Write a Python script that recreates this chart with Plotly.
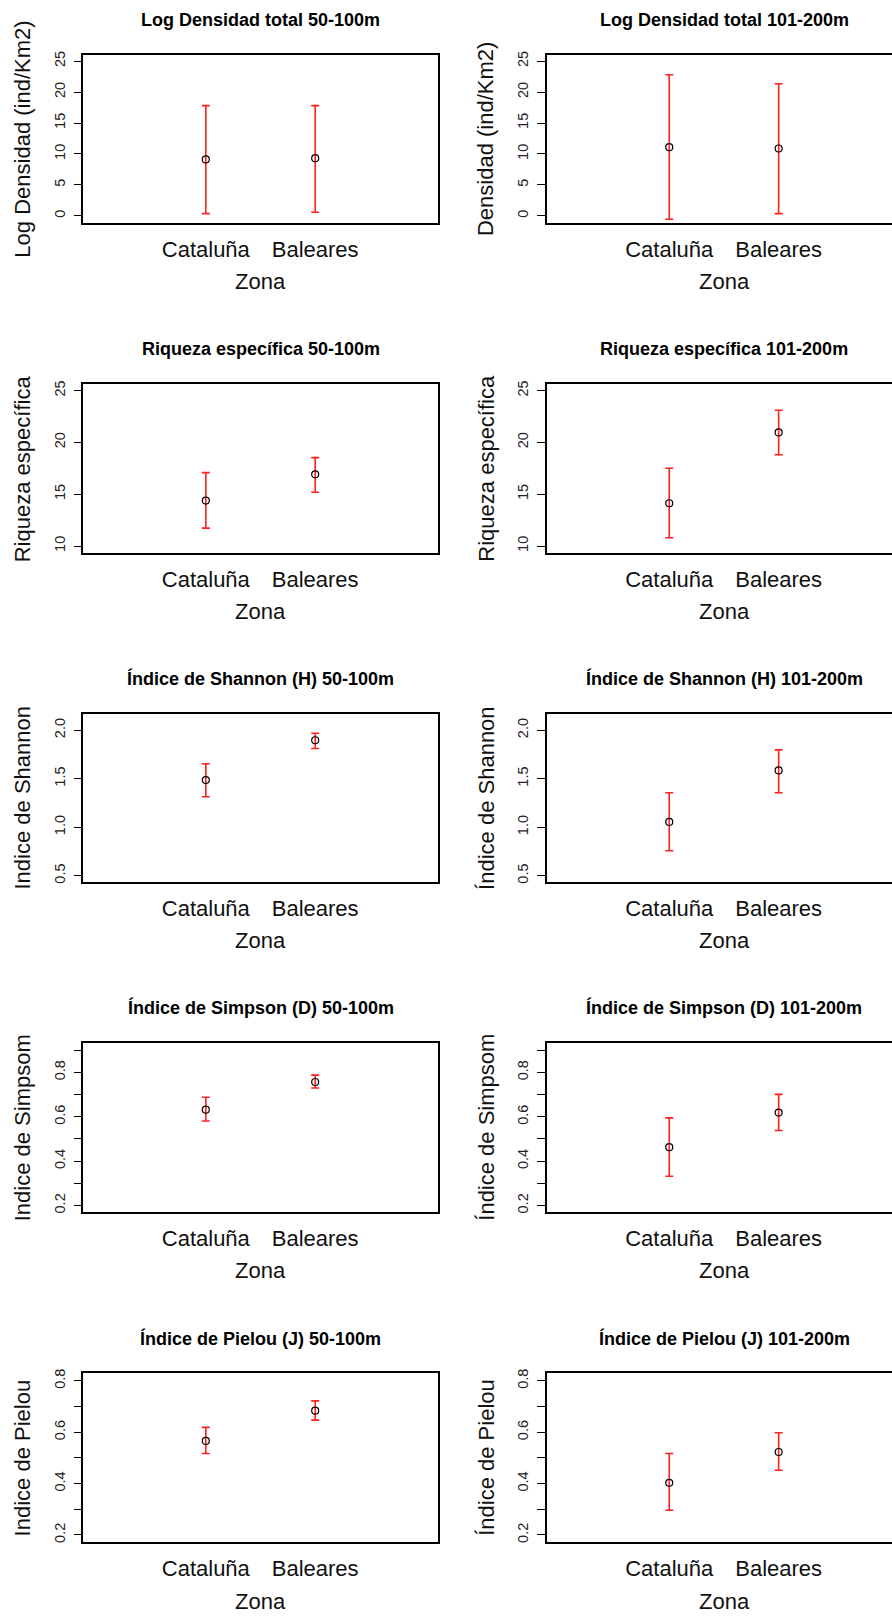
import plotly.graph_objects as go

categories = ["Cataluña", "Baleares"]

titles = [
    "Log Densidad total 50-100m", "Log Densidad total 101-200m",
    "Riqueza específica 50-100m", "Riqueza específica 101-200m",
    "Índice de Shannon (H) 50-100m", "Índice de Shannon (H) 101-200m",
    "Índice de Simpson (D) 50-100m", "Índice de Simpson (D) 101-200m",
    "Índice de Pielou (J) 50-100m", "Índice de Pielou (J) 101-200m",
]
ytitles = [
    "Log Densidad (ind/Km2)", "Densidad (ind/Km2)",
    "Riqueza específica", "Riqueza específica",
    "Indice de Shannon", "Índice de Shannon",
    "Indice de Simpsom", "Índice de Simpsom",
    "Indice de Pielou", "Índice de Pielou",
]

# mean, upper, lower for [Cataluña, Baleares]
dens_50_mean = [9.12, 9.33]
dens_50_up = [17.81, 17.81]
dens_50_lo = [0.38, 0.59]
dens_101_mean = [11.10, 10.89]
dens_101_up = [22.80, 21.35]
dens_101_lo = [-0.54, 0.38]

riq_50_mean = [14.39, 16.92]
riq_50_up = [17.08, 18.53]
riq_50_lo = [11.73, 15.19]
riq_101_mean = [14.13, 20.96]
riq_101_up = [17.50, 23.11]
riq_101_lo = [10.80, 18.81]

sha_50_mean = [1.486, 1.897]
sha_50_up = [1.654, 1.969]
sha_50_lo = [1.315, 1.812]
sha_101_mean = [1.055, 1.586]
sha_101_up = [1.356, 1.798]
sha_101_lo = [0.757, 1.356]

sim_50_mean = [0.632, 0.757]
sim_50_up = [0.688, 0.788]
sim_50_lo = [0.581, 0.730]
sim_101_mean = [0.463, 0.619]
sim_101_up = [0.595, 0.701]
sim_101_lo = [0.332, 0.538]

pie_50_mean = [0.566, 0.684]
pie_50_up = [0.619, 0.722]
pie_50_lo = [0.517, 0.647]
pie_101_mean = [0.403, 0.523]
pie_101_up = [0.517, 0.598]
pie_101_lo = [0.296, 0.452]

panels = [
    (dens_50_mean, dens_50_up, dens_50_lo), (dens_101_mean, dens_101_up, dens_101_lo),
    (riq_50_mean, riq_50_up, riq_50_lo), (riq_101_mean, riq_101_up, riq_101_lo),
    (sha_50_mean, sha_50_up, sha_50_lo), (sha_101_mean, sha_101_up, sha_101_lo),
    (sim_50_mean, sim_50_up, sim_50_lo), (sim_101_mean, sim_101_up, sim_101_lo),
    (pie_50_mean, pie_50_up, pie_50_lo), (pie_101_mean, pie_101_up, pie_101_lo),
]

# y axis ticks per row
row_tickvals = [
    [0, 5, 10, 15, 20, 25],
    [10, 15, 20, 25],
    [0.5, 1.0, 1.5, 2.0],
    [0.2, 0.3, 0.4, 0.5, 0.6, 0.7, 0.8, 0.9],
    [0.2, 0.3, 0.4, 0.5, 0.6, 0.7, 0.8],
]
row_ticktext = [
    ["0", "5", "10", "15", "20", "25"],
    ["10", "15", "20", "25"],
    ["0.5", "1.0", "1.5", "2.0"],
    ["0.2", "", "0.4", "", "0.6", "", "0.8", ""],
    ["0.2", "", "0.4", "", "0.6", "", "0.8"],
]
row_yrange = [
    [-1.17, 26.06],
    [9.36, 25.61],
    [0.438, 2.171],
    [0.170, 0.9335],
    [0.1716, 0.831],
]

W, H = 892, 1616
col_px = [(83.3, 437.7), (546.7, 892.0)]
col_xrange = [[-1.12, 2.12], [-1.12, 2.036]]
col_center = [260.5, 724.3]
row_px = [(50.7, 220.0), (381.7, 550.7), (712.3, 881.0), (1042.7, 1212.7), (1374.0, 1544.0)]

FONT = "Liberation Sans, Arial, sans-serif"

fig = go.Figure()
layout = dict(
    width=W, height=H, margin=dict(l=0, r=0, t=0, b=0),
    paper_bgcolor="white", plot_bgcolor="white", showlegend=False,
    font=dict(family=FONT, color="black"),
)
annotations = []

for i, (mean, up, lo) in enumerate(panels):
    r, c = divmod(i, 2)
    n = i + 1
    xa = "x" if n == 1 else f"x{n}"
    ya = "y" if n == 1 else f"y{n}"
    fig.add_trace(go.Scatter(
        x=categories, y=mean, xaxis=xa, yaxis=ya, mode="markers",
        marker=dict(symbol="circle-open", size=7, color="black", line=dict(width=1.2, color="black")),
        error_y=dict(type="data", symmetric=False,
                     array=[u - m for u, m in zip(up, mean)],
                     arrayminus=[m - l for m, l in zip(mean, lo)],
                     color="#ff2020", thickness=1.6, width=4),
        cliponaxis=False,
    ))
    x0, x1 = col_px[c]
    y0, y1 = row_px[r]
    xkey = "xaxis" if n == 1 else f"xaxis{n}"
    ykey = "yaxis" if n == 1 else f"yaxis{n}"
    layout[xkey] = dict(
        domain=[x0 / W, x1 / W], anchor=ya, type="category",
        categoryorder="array", categoryarray=categories,
        range=col_xrange[c], showgrid=False, zeroline=False,
        showline=True, mirror=True, linecolor="black", linewidth=1.5,
        ticks="", tickfont=dict(size=22, family=FONT, color="#111111"),
        ticklabelstandoff=6, fixedrange=True,
    )
    layout[ykey] = dict(
        domain=[1 - y1 / H, 1 - y0 / H], anchor=xa,
        range=row_yrange[r], showgrid=False, zeroline=False,
        showline=True, mirror=(c == 0), linecolor="black", linewidth=1.5,
        ticks="outside", ticklen=8, tickwidth=1.2, tickcolor="black",
        tickvals=row_tickvals[r], ticktext=row_ticktext[r], tickangle=-90,
        tickfont=dict(size=14.5, family=FONT, color="#222222"),
        ticklabelstandoff=3, fixedrange=True,
    )
    annotations.append(dict(
        text=f"<b>{titles[i]}</b>", x=col_center[c] / W, y=1 - (y0 - 35) / H,
        xref="paper", yref="paper", showarrow=False, xanchor="center", yanchor="middle",
        font=dict(size=18, family=FONT, color="black"),
    ))
    annotations.append(dict(
        text=ytitles[i], x=(x0 - 60.5) / W, y=1 - ((y0 + y1) / 2) / H,
        xref="paper", yref="paper", showarrow=False, xanchor="center", yanchor="middle",
        textangle=-90, font=dict(size=22, family=FONT, color="#111111"),
    ))
    annotations.append(dict(
        text="Zona", x=col_center[c] / W, y=1 - (y1 + 59) / H,
        xref="paper", yref="paper", showarrow=False, xanchor="center", yanchor="middle",
        font=dict(size=22, family=FONT, color="#111111"),
    ))

layout["annotations"] = annotations
fig.update_layout(**layout)
fig.write_html(
    "out.html",
    config={"displayModeBar": False},
    post_script="document.body.style.margin='0';document.body.style.overflow='hidden';",
)
